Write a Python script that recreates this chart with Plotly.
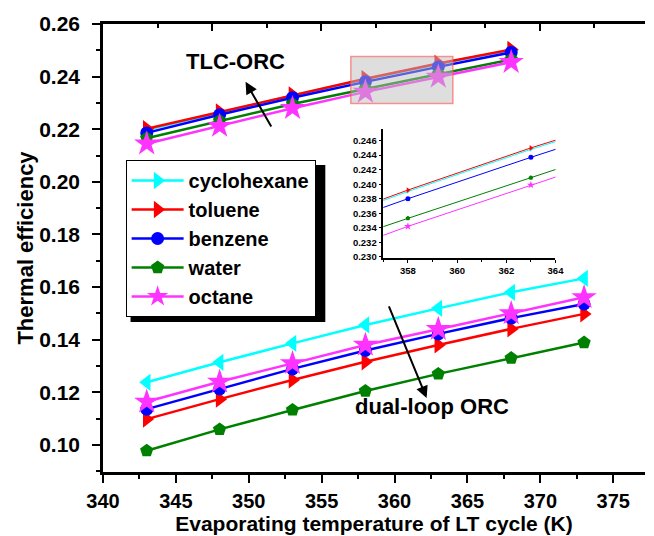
import plotly.graph_objects as go

# ---------------- data ----------------
T_dual = [343, 348, 353, 358, 363, 368, 373]
T_tlc = [343, 348, 353, 358, 363, 368]

fluids = ["cyclohexane", "toluene", "benzene", "water", "octane"]
colors = ["#00FFFF", "#FF0000", "#0000FF", "#008000", "#FF33FF"]

tlc_cyclohexane = [0.2198, 0.2263, 0.2328, 0.2390, 0.2448, 0.2501]
tlc_toluene = [0.2202, 0.2266, 0.2330, 0.2392, 0.2450, 0.2503]
tlc_benzene = [0.2186, 0.2255, 0.2320, 0.2380, 0.2437, 0.2492]
tlc_water = [0.2166, 0.2232, 0.2296, 0.2353, 0.2409, 0.2465]
tlc_octane = [0.2145, 0.2212, 0.2280, 0.2342, 0.2399, 0.2455]

dual_cyclohexane = [0.1238, 0.1314, 0.1386, 0.1456, 0.1519, 0.1580, 0.1633]
dual_toluene = [0.1098, 0.1174, 0.1247, 0.1316, 0.1380, 0.1441, 0.1498]
dual_benzene = [0.1136, 0.1213, 0.1289, 0.1359, 0.1422, 0.1482, 0.1536]
dual_water = [0.0978, 0.1059, 0.1133, 0.1205, 0.1270, 0.1330, 0.1389]
dual_octane = [0.1164, 0.1240, 0.1310, 0.1380, 0.1440, 0.1500, 0.1561]

tlc_series = [tlc_cyclohexane, tlc_toluene, tlc_benzene, tlc_water, tlc_octane]
dual_series = [dual_cyclohexane, dual_toluene, dual_benzene, dual_water, dual_octane]

x_range = [340, 377.18]
y_range = [0.0897, 0.26]
inset_x_range = [357, 364]
inset_y_range = [0.2298, 0.2476]

main_symbols = ["triangle-right", "triangle-right", "circle", "pentagon", "star"]
dual_symbols = ["triangle-left", "triangle-right", "circle", "pentagon", "star"]
main_sizes = [15, 15, 13, 14, 19]
inset_sizes = [4, 5, 5, 5, 6]

FONT = "Liberation Sans"

fig = go.Figure()

for name, c, sym, sz, ys in zip(fluids, colors, main_symbols, main_sizes, tlc_series):
    fig.add_trace(go.Scatter(
        x=T_tlc, y=ys, name=name, mode="lines+markers",
        line=dict(color=c, width=2.5),
        marker=dict(symbol=sym, size=sz, color=c, line=dict(width=0)),
        xaxis="x", yaxis="y", legendgroup=name, showlegend=True))

for name, c, sym, sz, ys in zip(fluids, colors, dual_symbols, main_sizes, dual_series):
    fig.add_trace(go.Scatter(
        x=T_dual, y=ys, name=name, mode="lines+markers",
        line=dict(color=c, width=2.5),
        marker=dict(symbol=sym, size=sz, color=c, line=dict(width=0)),
        xaxis="x", yaxis="y", legendgroup=name, showlegend=False))

# inset traces (same data, zoomed)
for name, c, sym, sz, ys in zip(fluids, colors, main_symbols, inset_sizes, tlc_series):
    fig.add_trace(go.Scatter(
        x=T_tlc, y=ys, name=name, mode="lines+markers",
        line=dict(color=c, width=1),
        marker=dict(symbol=sym, size=sz, color=c, line=dict(width=0)),
        xaxis="x2", yaxis="y2", legendgroup=name, showlegend=False,
        cliponaxis=True))

# dummy trace for top axis ticks
fig.add_trace(go.Scatter(x=[None], y=[None], xaxis="x3", yaxis="y", showlegend=False))

# plot-area geometry in px
L, R, Tp, B = 103, 654, 24, 472
W, H = R - L, B - Tp

def px_x(p):
    return (p - L) / W

def px_y(p):
    return (B - p) / H

fig.update_layout(
    width=654, height=536,
    margin=dict(l=L, r=654 - R, t=Tp, b=536 - B, pad=0),
    paper_bgcolor="white", plot_bgcolor="white",
    font=dict(family=FONT, color="black"),
    showlegend=True,
    legend=dict(
        x=px_x(126), y=px_y(160), xanchor="left", yanchor="top",
        bgcolor="white", bordercolor="black", borderwidth=1,
        font=dict(family=FONT, size=20, color="black", weight="bold"),
        itemwidth=52, tracegroupgap=0, traceorder="normal",
    ),
    xaxis=dict(
        range=x_range, domain=[0, 1], tickmode="linear", tick0=340, dtick=5,
        ticks="outside", ticklen=8, tickwidth=2, tickcolor="black",
        minor=dict(dtick=2.5, tick0=340, ticks="outside", ticklen=4, tickwidth=2, tickcolor="black"),
        showline=True, linewidth=2.5, linecolor="black", mirror=False,
        showgrid=False, zeroline=False, ticklabelstandoff=1,
        tickfont=dict(family=FONT, size=20, color="black", weight="bold"),
        title=dict(text="Evaporating temperature of LT cycle (K)",
                   font=dict(family=FONT, size=21, color="black", weight="bold"), standoff=0),
    ),
    yaxis=dict(
        range=y_range, domain=[0, 1], tickmode="linear", tick0=0.10, dtick=0.02,
        tickformat=".2f",
        ticks="outside", ticklen=8, tickwidth=2, tickcolor="black",
        minor=dict(dtick=0.01, tick0=0.10, ticks="outside", ticklen=4, tickwidth=2, tickcolor="black"),
        showline=True, linewidth=2.5, linecolor="black",
        showgrid=False, zeroline=False, ticklabelstandoff=8,
        tickfont=dict(family=FONT, size=21, color="black", weight="bold"),
        title=dict(text="Thermal efficiency",
                   font=dict(family=FONT, size=22, color="black", weight="bold"), standoff=0),
    ),
    xaxis3=dict(
        overlaying="x", side="top", range=[0, W / 111.0], anchor="y",
        tickmode="linear", tick0=0, dtick=1, ticks="inside", ticklen=7, tickwidth=2,
        tickcolor="black", showticklabels=False,
        minor=dict(dtick=0.5, ticks="inside", ticklen=4, tickwidth=2, tickcolor="black"),
        showline=True, linewidth=2.5, linecolor="black",
        showgrid=False, zeroline=False,
    ),
    xaxis2=dict(
        domain=[px_x(388), px_x(563)], anchor="y2", range=inset_x_range,
        tickmode="linear", tick0=358, dtick=2,
        ticks="outside", ticklen=3, tickwidth=1, tickcolor="black",
        minor=dict(dtick=1, ticks="outside", ticklen=2, tickwidth=1, tickcolor="black"),
        showline=True, linewidth=1.5, linecolor="black",
        showgrid=False, zeroline=False,
        tickfont=dict(family=FONT, size=9.5, color="black", weight="bold"),
    ),
    yaxis2=dict(
        domain=[px_y(258.3), px_y(129)], anchor="x2", range=inset_y_range,
        tickmode="linear", tick0=0.230, dtick=0.002, tickformat=".3f",
        ticks="outside", ticklen=3, tickwidth=1, tickcolor="black",
        showline=True, linewidth=1.5, linecolor="black",
        showgrid=False, zeroline=False,
        tickfont=dict(family=FONT, size=9.5, color="black", weight="bold"),
    ),
)

# zoom rectangle in main plot
fig.add_shape(type="rect", xref="x", yref="y",
              x0=inset_x_range[0], x1=inset_x_range[1],
              y0=inset_y_range[0], y1=inset_y_range[1],
              fillcolor="rgba(190,190,190,0.5)", line=dict(color="rgba(255,80,80,0.6)", width=1.5),
              layer="above")

# legend shadow
fig.add_shape(type="rect", xref="paper", yref="paper",
              x0=px_x(131), x1=px_x(329), y0=px_y(322), y1=px_y(165),
              fillcolor="black", line=dict(width=0), layer="below")

# annotations
fig.add_annotation(x=349.1, y=0.2456, xref="x", yref="y", text="TLC-ORC", showarrow=False,
                   font=dict(family=FONT, size=22, color="black", weight="bold"))
fig.add_annotation(x=362.6, y=0.1145, xref="x", yref="y", text="dual-loop ORC", showarrow=False,
                   font=dict(family=FONT, size=22, color="black", weight="bold"))
fig.add_annotation(x=349.78, y=0.2380, ax=351.6, ay=0.2205, xref="x", yref="y",
                   axref="x", ayref="y", text="", showarrow=True, arrowhead=2,
                   arrowsize=1.2, arrowwidth=2, arrowcolor="black")
fig.add_annotation(x=362.2, y=0.1178, ax=359.57, ay=0.1532, xref="x", yref="y",
                   axref="x", ayref="y", text="", showarrow=True, arrowhead=2,
                   arrowsize=1.2, arrowwidth=2, arrowcolor="black")

fig.write_html("out.html")
